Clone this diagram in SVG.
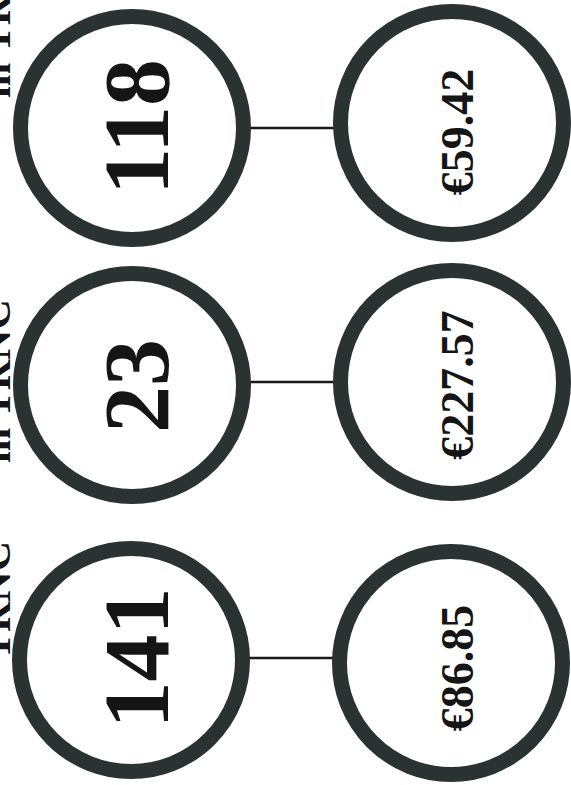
<svg xmlns="http://www.w3.org/2000/svg" width="571" height="785" viewBox="0 0 571 785">
<style>
.ring{fill:#fff;stroke:#2a3332;stroke-width:15}
.num{font-family:"Liberation Serif","Times New Roman",serif;font-weight:bold;font-size:94px;fill:#151515;text-anchor:middle}
.eur{font-family:"Liberation Serif","Times New Roman",serif;font-weight:bold;font-size:46px;fill:#151515;text-anchor:middle}
.lbl{font-family:"Liberation Serif","Times New Roman",serif;font-weight:bold;font-size:42px;fill:#151515;text-anchor:start}
.conn{stroke:#1a1a1a;stroke-width:2.5;fill:none}
</style>
<rect width="571" height="785" fill="#fff"/>
<g id="labels">
<text class="lbl" transform="translate(10,98) rotate(-90)">in TRNC</text>
<text class="lbl" transform="translate(10,463) rotate(-90)">in TRNC</text>
<text class="lbl" transform="translate(10,660) rotate(-90)">TRNC</text>
</g>
<g id="connectors">
<line class="conn" x1="250" y1="128" x2="336" y2="128"/>
<line class="conn" x1="250" y1="382" x2="334" y2="382"/>
<line class="conn" x1="249" y1="658" x2="333" y2="658"/>
</g>
<g id="n118"><circle class="ring" cx="132" cy="128" r="111.5"/><text class="num" transform="translate(168,127) rotate(-90)">118</text></g>
<g id="n23"><circle class="ring" cx="132" cy="385" r="111.5"/><text class="num" transform="translate(168,386) rotate(-90)">23</text></g>
<g id="n141"><circle class="ring" cx="131" cy="660" r="111.5"/><text class="num" transform="translate(168,658) rotate(-90)">141</text></g>
<g id="e5942"><circle class="ring" cx="452" cy="123" r="111.5"/><text class="eur" transform="translate(473,132) rotate(-90)">€59.42</text></g>
<g id="e22757"><circle class="ring" cx="452" cy="382" r="111.5"/><text class="eur" transform="translate(473,385) rotate(-90)">€227.57</text></g>
<g id="e8685"><circle class="ring" cx="451" cy="663" r="111.5"/><text class="eur" transform="translate(473,668) rotate(-90)">€86.85</text></g>
</svg>
